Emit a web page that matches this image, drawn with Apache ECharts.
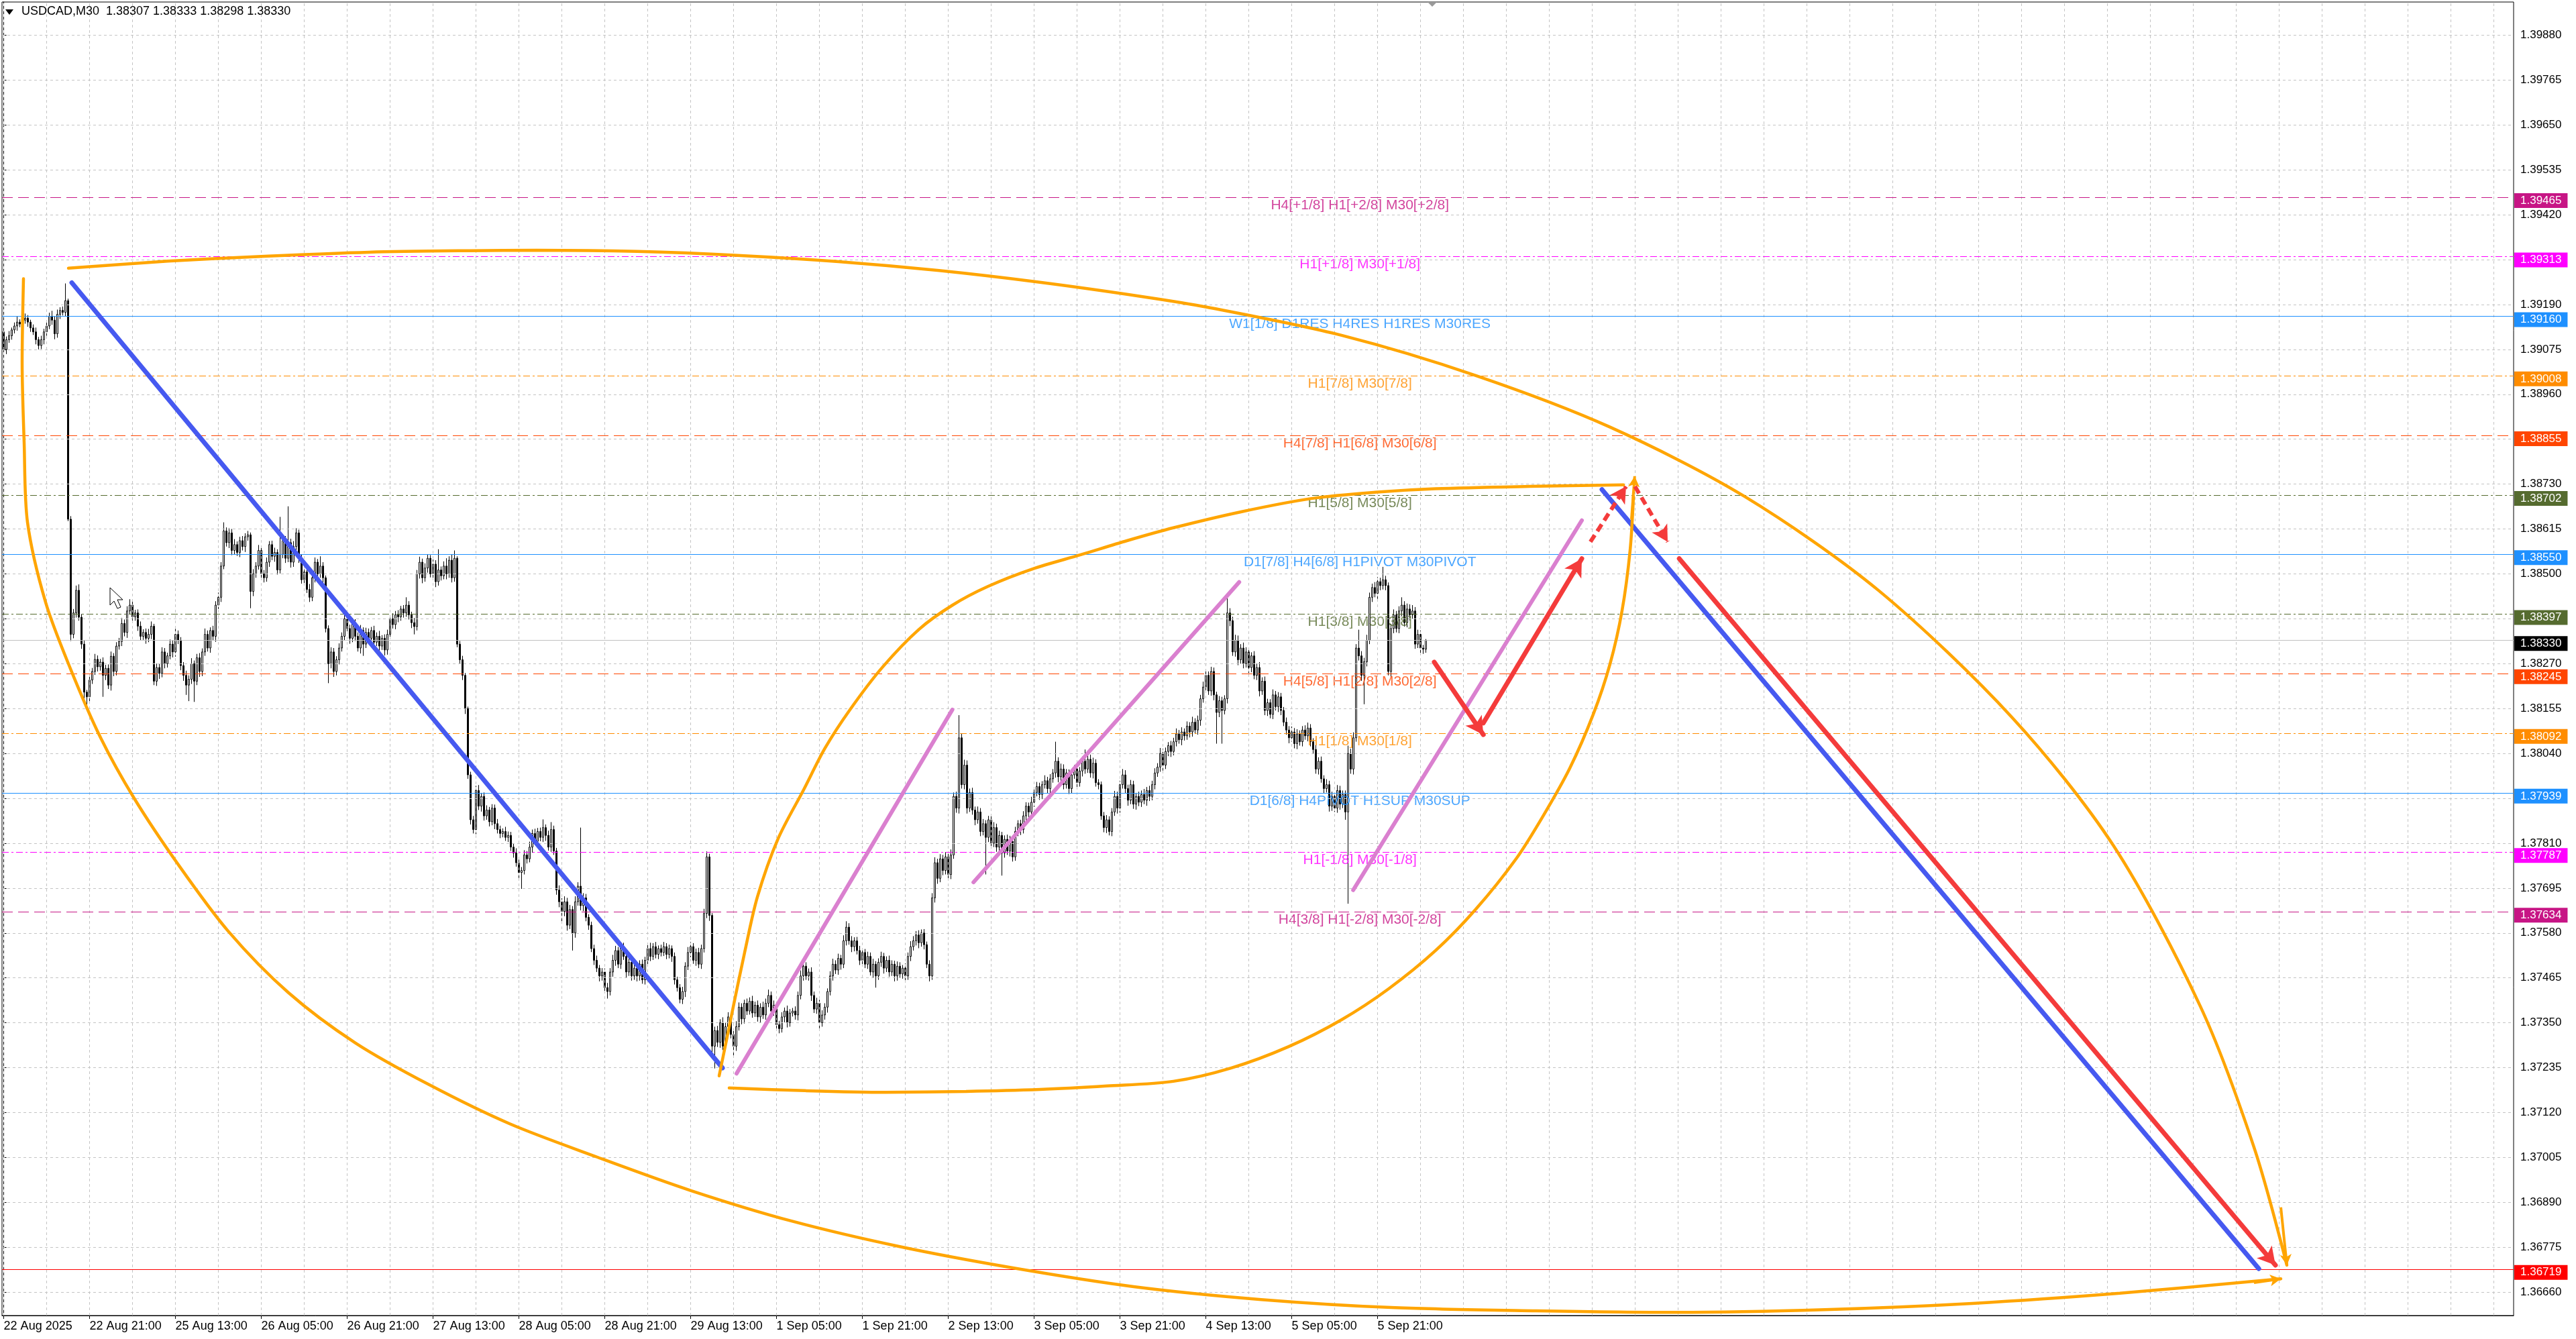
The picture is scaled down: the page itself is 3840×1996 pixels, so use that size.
<!DOCTYPE html>
<html><head><meta charset="utf-8">
<script src="https://cdn.jsdelivr.net/npm/echarts@6/dist/echarts.min.js"></script>
<style>html,body{margin:0;padding:0;background:#fff;}#c{width:3840px;height:1996px;}</style>
</head><body><div id="c"></div>
<script>
// ---- DATA (prices in points above 1.37000) ----
const BASE = 1.37, PT = 0.00001;
const firstOpen = 2120;
const closes = [
2075,2100,2110,2125,2135,2145,2140,2150,2155,2145,
2130,2120,2100,2085,2100,2120,2135,2160,2150,2115,
2165,2175,2170,2200,1640,1345,1400,1458,1389,1320,
1197,1185,1228,1250,1281,1262,1274,1240,1258,1215,
1289,1250,1315,1327,1373,1350,1405,1420,1390,1400,
1366,1340,1350,1335,1345,1366,1225,1260,1245,1300,
1270,1290,1320,1300,1345,1330,1265,1240,1215,1230,
1270,1225,1285,1250,1300,1345,1310,1355,1340,1420,
1440,1520,1610,1580,1605,1560,1575,1555,1585,1570,
1595,1600,1455,1500,1520,1560,1500,1490,1530,1575,
1545,1555,1510,1550,1585,1540,1580,1530,1570,1605,
1540,1485,1505,1460,1440,1490,1530,1500,1520,1490,
1360,1270,1300,1250,1280,1310,1340,1385,1360,1335,
1375,1340,1310,1355,1320,1350,1335,1355,1325,1340,
1315,1335,1305,1345,1385,1370,1395,1390,1410,1400,
1420,1395,1375,1365,1500,1530,1490,1515,1540,1500,
1525,1480,1510,1495,1520,1500,1535,1490,1540,1320,
1280,1240,1155,985,870,845,945,905,930,880,
895,865,900,860,845,835,840,825,830,800,
785,760,735,740,780,770,800,835,815,840,
825,850,830,800,845,790,690,660,635,660,
600,640,580,660,700,650,670,620,600,540,
510,490,470,480,440,430,480,510,535,500,
545,520,480,505,470,490,470,500,460,510,
540,520,545,525,540,530,545,525,540,520,
460,440,410,430,495,530,545,510,530,500,
540,630,775,625,290,330,300,350,290,340,
365,320,290,340,390,360,400,380,405,375,
395,365,390,370,400,420,380,395,345,335,
365,380,350,375,380,370,420,470,495,470,
480,420,385,400,350,370,390,430,470,500,
485,515,500,560,595,560,545,560,535,510,
530,500,520,480,500,470,505,520,490,510,
480,500,470,495,475,490,470,520,545,560,
575,555,580,550,500,470,670,760,720,770,
740,775,730,780,930,900,1080,960,1010,900,
940,895,870,890,840,860,825,870,810,850,
800,830,785,820,790,815,775,840,860,845,
880,905,890,915,940,955,935,960,970,950,
975,990,1020,980,1000,960,990,950,985,1000,
965,995,1020,1000,1025,990,1015,965,960,880,
850,870,840,890,930,900,960,985,950,920,
960,910,930,915,935,920,945,930,960,990,
1005,1040,1010,1045,1060,1045,1070,1090,1075,1095,
1085,1110,1095,1120,1100,1125,1180,1210,1240,1200,
1250,1190,1145,1175,1150,1180,1400,1380,1300,1330,
1280,1310,1270,1300,1260,1290,1240,1260,1200,1225,
1150,1170,1140,1190,1160,1185,1150,1120,1100,1080,
1095,1065,1090,1070,1100,1085,1105,1070,1050,1000,
1020,975,950,960,905,930,900,945,910,935,
890,1040,1000,1080,1310,1290,1240,1275,1330,1440,
1465,1450,1480,1470,1485,1470,1250,1360,1395,1360,
1405,1420,1375,1410,1395,1405,1320,1345,1310,1307,
1330];
const upWick = [
10,8,12,6,9,14,7,10,12,8, 6,9,11,7,10,8,12,9,14,10, 12,8,10,44,5,8,10,12,15,8,
10,6,12,9,14,10,8,12,9,10, 12,8,10,9,14,10,12,15,10,8, 9,12,8,10,14,12,6,10,9,12,
10,8,12,9,14,10,8,9,12,10, 14,8,10,12,9,15,10,8,12,10, 12,10,22,9,12,10,14,8,10,12,
9,10,6,12,10,14,8,10,12,9, 10,12,8,96,10,12,93,10,14,12, 8,10,12,9,14,10,12,8,25,10,
6,8,12,10,9,12,10,14,8,10, 12,9,10,14,8,12,10,9,12,10, 14,8,10,12,9,14,10,12,8,10,
20,10,8,12,10,14,9,12,10,8, 12,10,53,9,12,20,10,14,20,5, 8,10,6,5,8,10,12,14,9,10,
12,8,10,9,12,10,8,12,10,9, 10,12,8,9,12,10,14,10,12,9, 10,21,8,12,19,10,8,12,9,14,
10,12,9,14,10,150,12,10,8,9, 10,12,8,10,9,12,10,14,12,9, 12,10,8,12,10,9,14,10,12,9,
10,15,9,12,8,10,12,9,10,8, 10,8,9,12,10,14,12,9,10,12, 10,12,14,8,6,10,12,9,14,10,
12,9,10,14,12,10,9,12,10,14, 9,12,10,14,12,15,10,12,9,10, 12,9,14,10,8,12,10,14,12,10,
9,12,10,14,9,12,10,8,12,14, 10,12,9,14,15,10,12,9,10,12, 10,9,12,10,14,8,10,12,9,10,
12,10,9,12,10,8,12,10,14,12, 10,12,9,10,8,10,12,14,10,12, 10,12,9,14,10,12,58,10,14,12,
10,12,9,14,10,12,9,10,12,14, 10,12,9,10,12,14,10,12,9,10, 12,10,9,14,10,12,10,9,14,10,
12,10,50,10,14,12,10,9,12,10, 14,10,12,30,10,12,14,10,9,8, 10,12,9,10,14,12,10,15,12,10,
12,10,9,12,10,14,9,12,10,12, 10,14,12,10,9,12,10,14,10,12, 9,12,10,14,10,12,10,14,12,10,
12,10,8,12,10,9,50,12,10,14, 12,10,14,12,10,9,12,10,14,10, 12,10,9,14,10,12,10,9,12,10,
14,10,12,9,10,12,14,10,9,12, 10,12,9,14,10,12,10,14,12,10, 10,20,12,14,10,47,12,10,14,12,
10,14,12,10,33,10,8,12,14,10, 12,20,10,14,12,15,10,12,10,8,
3];
const dnWick = [
10,12,8,10,9,12,8,10,9,12, 10,8,12,10,9,12,10,8,12,14, 10,12,8,10,5,17,10,12,9,12,
17,34,12,10,9,12,10,55,12,10, 14,12,10,9,12,10,14,9,12,10, 12,10,9,14,10,12,10,12,14,10,
12,10,9,14,12,10,12,14,25,41, 12,53,10,14,12,10,9,12,10,14, 10,12,8,10,14,12,10,9,12,10,
14,10,43,12,10,9,14,12,10,12, 10,14,12,9,10,12,10,14,12,10, 12,10,14,9,12,10,12,14,10,12,
10,50,12,14,10,12,9,10,12,14, 10,12,9,14,30,10,12,9,14,10, 12,10,14,12,9,10,12,14,10,12,
10,12,14,20,10,12,14,10,12,9, 12,14,10,12,9,14,10,12,10,8, 10,12,14,10,12,10,12,10,14,12,
10,12,9,14,10,12,10,9,12,10, 12,10,14,42,10,12,9,14,10,12, 10,12,14,9,12,10,12,14,25,12,
14,10,45,12,10,12,14,10,12,9, 12,10,14,12,10,18,10,12,14,10, 12,9,14,10,12,10,14,12,10,12,
10,12,9,10,12,10,9,12,10,14, 12,10,10,12,14,10,12,9,14,10, 12,10,12,14,20,57,12,14,10,12,
14,10,30,12,10,14,12,10,9,12, 10,12,14,10,12,10,14,12,10,12, 10,14,12,10,9,12,14,10,12,10,
12,14,10,12,14,10,12,14,10,12, 10,12,14,10,12,10,14,12,10,12, 14,10,12,9,14,30,10,12,14,10,
12,10,14,12,10,12,14,10,12,10, 12,14,10,12,10,14,10,12,14,10, 12,10,14,12,10,12,14,10,12,14,
10,12,14,10,12,10,95,12,14,10, 12,10,58,12,10,14,12,10,12,14, 10,12,14,10,12,10,14,12,10,12,
14,10,12,14,10,12,10,14,12,10, 12,10,14,12,10,12,14,10,12,10, 12,14,10,12,10,14,12,10,12,14,
10,12,14,10,12,10,14,12,10,12, 10,12,14,10,12,14,10,12,10,14, 12,10,14,12,10,12,14,10,12,10,
12,14,80,12,85,10,12,14,10,12, 14,10,12,10,14,12,10,12,14,10, 12,14,10,12,10,14,12,10,12,14,
10,12,14,10,12,10,14,12,10,12, 14,10,12,10,14,12,10,12,14,10, 20,235,12,14,10,12,14,74,12,10,
12,10,14,12,10,12,10,14,12,10, 12,14,10,12,14,10,12,10,14,12,
9];

const xTickBars = [0,32,64,96,128,160,192,224,256,288,320,352,384,416,448,480,512];
const xTickLabels = ['22 Aug 2025','22 Aug 21:00','25 Aug 13:00','26 Aug 05:00','26 Aug 21:00','27 Aug 13:00','28 Aug 05:00','28 Aug 21:00','29 Aug 13:00','1 Sep 05:00','1 Sep 21:00','2 Sep 13:00','3 Sep 05:00','3 Sep 21:00','4 Sep 13:00','5 Sep 05:00','5 Sep 21:00'];
const yGridValues = [1.36660,1.36775,1.36890,1.37005,1.37120,1.37235,1.37350,1.37465,1.37580,1.37695,1.37810,1.37925,1.38040,1.38155,1.38270,1.38385,1.38500,1.38615,1.38730,1.38845,1.38960,1.39075,1.39190,1.39305,1.39420,1.39535,1.39650,1.39765,1.39880];
const yTickLabels = [1.36660,1.36775,1.36890,1.37005,1.37120,1.37235,1.37350,1.37465,1.37580,1.37695,1.37810,1.38040,1.38155,1.38270,1.38500,1.38615,1.38730,1.38960,1.39075,1.39190,1.39420,1.39535,1.39650,1.39765,1.39880];

const levelPrices = [1.39465,1.39313,1.39160,1.39008,1.38855,1.38702,1.38550,1.38397,1.38245,1.38092,1.37939,1.37787,1.37634];
const levelNames = ['H4[+1/8] H1[+2/8] M30[+2/8]','H1[+1/8] M30[+1/8]','W1[1/8] D1RES H4RES H1RES M30RES','H1[7/8] M30[7/8]','H4[7/8] H1[6/8] M30[6/8]','H1[5/8] M30[5/8]','D1[7/8] H4[6/8] H1PIVOT M30PIVOT','H1[3/8] M30[3/8]','H4[5/8] H1[2/8] M30[2/8]','H1[1/8] M30[1/8]','D1[6/8] H4PIVOT H1SUP M30SUP','H1[-1/8] M30[-1/8]','H4[3/8] H1[-2/8] M30[-2/8]'];
const levelKinds = ['h4','mag','blue','orange','ored','olive','blue','olive','ored','orange','blue','mag','h4'];
const currentPrice = 1.38330;
const targetPrice = 1.36719;
const titleText = 'USDCAD,M30  1.38307 1.38333 1.38298 1.38330';

// drawings: [bar index, price]
const blueTrends = [
  [[25.35,1.39246],[267.85,1.37234]],
  [[595.6,1.38716],[840.4,1.36720]]
];
const pinkChannels = [
  [[273.1,1.37220],[353.5,1.38152]],
  [[361.4,1.37710],[460.4,1.38479]],
  [[502.9,1.37690],[588.1,1.38637]]
];
const redArrows = [
  [[624.4,1.38539],[846.6,1.36729]],
  [[533.1,1.38274],[551.4,1.38088]],
  [[551.4,1.38118],[588.1,1.38539]]
];
const redDashedArrows = [
  [[591.3,1.38582],[604.6,1.38724]],
  [[607.9,1.38724],[620.1,1.38582]]
];
const outerLowerArc = [[7.35,1.39256],[6.85,1.39042],[7.6,1.38836],[8.85,1.38632],[15.6,1.38427],[24.85,1.38257],[36.1,1.38080],[48.6,1.37925],[64.85,1.37757],[83.6,1.37585],[106.1,1.37427],[131.1,1.37298],[158.6,1.37191],[188.6,1.37091],[221.1,1.37006],[256.1,1.36920],[293.6,1.36842],[333.6,1.36777],[376.1,1.36722],[421.1,1.36674],[468.6,1.36641],[518.6,1.36620],[571.1,1.36612],[623.6,1.36608],[678.6,1.36615],[733.6,1.36631],[788.6,1.36657],[848.6,1.36694]];
const outerUpperArc = [[24.1,1.39283],[61.1,1.39301],[98.6,1.39314],[136.1,1.39324],[173.6,1.39328],[198.6,1.39329],[236.1,1.39326],[273.6,1.39316],[311.1,1.39300],[348.6,1.39277],[386.1,1.39247],[423.6,1.39211],[448.6,1.39183],[498.6,1.39111],[548.6,1.39008],[598.6,1.38876],[648.6,1.38699],[698.6,1.38458],[748.6,1.38131],[786.1,1.37805],[818.6,1.37392],[838.6,1.37031],[850.85,1.36729]];
const innerUpperArc = [[266.6,1.37214],[269.35,1.37306],[272.1,1.37399],[276.1,1.37530],[280.85,1.37672],[288.6,1.37822],[298.1,1.37947],[306.1,1.38054],[315.35,1.38152],[327.35,1.38260],[341.1,1.38358],[353.6,1.38420],[366.85,1.38468],[383.6,1.38513],[401.35,1.38549],[418.6,1.38585],[435.85,1.38618],[461.1,1.38659],[487.35,1.38693],[511.1,1.38709],[533.6,1.38718],[568.6,1.38724],[603.6,1.38728]];
const innerLowerArc = [[270.35,1.37183],[298.6,1.37176],[328.6,1.37172],[358.6,1.37174],[386.1,1.37179],[411.1,1.37188],[435.85,1.37200],[457.35,1.37234],[478.85,1.37289],[498.6,1.37358],[516.1,1.37437],[533.6,1.37535],[548.6,1.37641],[563.6,1.37770],[573.6,1.37879],[583.6,1.38002],[592.35,1.38140],[598.6,1.38269],[603.1,1.38406],[606.1,1.38561],[607.35,1.38699]];
const orangeArrowHeads = [
  [[606.6,1.38640],[607.8,1.38750]],
  [[838.6,1.36684],[848.6,1.36694]],
  [[848.6,1.36877],[850.85,1.36729]]
];

// ---- BUILD ----
const FONT = 'Liberation Sans';
const candles = closes.map((c, i) => {
  const o = i === 0 ? firstOpen : closes[i - 1];
  const hi = Math.max(o, c) + upWick[i];
  const lo = Math.min(o, c) - dnWick[i];
  return [i, BASE + o * PT, BASE + c * PT, BASE + lo * PT, BASE + hi * PT];
});
const kindStyle = {
  h4: {color: '#C71585', type: [16, 8]},
  mag: {color: '#FF00FF', type: [10, 4, 3, 4]},
  blue: {color: '#1E90FF', type: 'solid'},
  orange: {color: '#FF8C00', type: [10, 4, 3, 4]},
  ored: {color: '#FF4500', type: [16, 8]},
  olive: {color: '#556B2F', type: [10, 4, 3, 4]}
};
const xGridBars = [];
for (let b = 0; b <= 928; b += 16) xGridBars.push(b);

function badge(price, bg, lineColor, lineType) {
  return {
    yAxis: price,
    lineStyle: {color: lineColor, type: lineType, width: 1.2},
    label: {show: true, position: 'end', distance: 1, formatter: price.toFixed(5),
      backgroundColor: bg, color: '#fff', padding: [3, 9, 2, 9], fontSize: 17, fontFamily: FONT, offset: [0, 5]}
  };
}
const levelMarks = levelPrices.map((p, k) => {
  const s = kindStyle[levelKinds[k]];
  return badge(p, s.color, s.color, s.type);
});
levelMarks.push(badge(currentPrice, '#000000', '#C0C0C0', 'solid'));
levelMarks.push(badge(targetPrice, '#FF0000', '#FF0000', 'solid'));

const dummy = [[0, 1.38]];
function holder(z, markLine) {
  markLine.precision = 6;
  return {type: 'line', data: dummy, symbol: 'none', lineStyle: {opacity: 0}, silent: true, z: z, animation: false, markLine: markLine};
}
function segs(list, extra) {
  return list.map(s => [Object.assign({coord: s[0]}, extra || {}), {coord: s[1]}]);
}
function arc(pts) {
  return {type: 'line', data: pts, smooth: 0.3, showSymbol: false, symbol: 'none', silent: true, clip: false, z: 5,
    lineStyle: {color: '#FFA500', width: 4.5, cap: 'round'}, animation: false};
}

const chart = echarts.init(document.getElementById('c'), null, {renderer: 'canvas'});
chart.setOption({
  animation: false,
  backgroundColor: '#ffffff',
  textStyle: {fontFamily: FONT},
  grid: {left: 3, right: 93, top: 3, bottom: 35, show: true, borderColor: '#000', borderWidth: 1, backgroundColor: '#fff'},
  xAxis: {
    type: 'value', min: -0.65, max: 935.35,
    axisLine: {show: true, onZero: false, lineStyle: {color: '#000', width: 1}},
    axisTick: {show: true, customValues: xTickBars, length: 5, lineStyle: {color: '#000'}},
    axisLabel: {show: true, customValues: xTickBars, align: 'left', margin: 7, fontSize: 18, color: '#000', fontFamily: FONT,
      formatter: v => xTickLabels[xTickBars.indexOf(Math.round(v))] || ''},
    splitLine: {show: false}
  },
  yAxis: {
    type: 'value', position: 'right', min: 1.366, max: 1.39965, scale: true,
    axisLine: {show: true, lineStyle: {color: '#000', width: 1}},
    axisTick: {show: true, customValues: yGridValues, length: 4, lineStyle: {color: '#000'}},
    axisLabel: {show: true, customValues: yTickLabels, margin: 10, fontSize: 17, color: '#000', fontFamily: FONT,
      formatter: v => v.toFixed(5)},
    splitLine: {show: false}
  },
  series: [
    holder(0, {silent: true, symbol: 'none', animation: false, label: {show: false}, emphasis: {disabled: true},
      lineStyle: {color: '#c4c4c4', type: [4, 4], width: 1},
      data: yGridValues.map(v => ({yAxis: v})).concat(xGridBars.map(b => ({xAxis: b})))}),
    holder(1, {silent: true, symbol: 'none', animation: false, emphasis: {disabled: true}, data: levelMarks}),
    {
      type: 'candlestick', data: candles, encode: {x: 0, y: [1, 2, 3, 4]}, barWidth: 3, z: 2, silent: true,
      itemStyle: {color: '#ffffff', color0: '#000000', borderColor: '#000000', borderColor0: '#000000', borderWidth: 1}
    },
    {
      type: 'scatter', z: 3, silent: true, symbolSize: 1, itemStyle: {color: 'rgba(0,0,0,0)'},
      data: levelPrices.map((p, k) => ({name: levelNames[k], value: [505.4, p],
        label: {color: kindStyle[levelKinds[k]].color}})),
      label: {show: true, position: 'bottom', distance: 1, formatter: '{b}', fontSize: 21, fontFamily: FONT}
    },
    arc(outerLowerArc), arc(outerUpperArc), arc(innerUpperArc), arc(innerLowerArc),
    holder(5, {silent: true, animation: false, symbol: ['none', 'arrow'], symbolSize: [13, 16], label: {show: false}, emphasis: {disabled: true},
      lineStyle: {color: '#FFA500', width: 4, type: 'solid'}, data: segs(orangeArrowHeads)}),
    holder(6, {silent: true, animation: false, symbol: ['none', 'none'], label: {show: false}, emphasis: {disabled: true},
      lineStyle: {color: '#4659F0', width: 7, type: 'solid', cap: 'round'}, data: segs(blueTrends)}),
    holder(6, {silent: true, animation: false, symbol: ['none', 'none'], label: {show: false}, emphasis: {disabled: true},
      lineStyle: {color: '#DA80CF', width: 6, type: 'solid', cap: 'round'}, data: segs(pinkChannels)}),
    holder(7, {silent: true, animation: false, symbol: ['none', 'arrow'], symbolSize: [22, 26], label: {show: false}, emphasis: {disabled: true},
      lineStyle: {color: '#F43B3B', width: 7, type: 'solid', cap: 'round'}, data: segs(redArrows)}),
    holder(7, {silent: true, animation: false, symbol: ['none', 'arrow'], symbolSize: [20, 24], label: {show: false}, emphasis: {disabled: true},
      lineStyle: {color: '#F43B3B', width: 6, type: [12, 7]}, data: segs(redDashedArrows)})
  ],
  graphic: [
    {type: 'polygon', shape: {points: [[8, 14], [20, 14], [14, 22]]}, style: {fill: '#000'}, z: 10},
    {type: 'text', left: 32, top: 8, style: {text: titleText, fontSize: 18, fontFamily: FONT, fill: '#000'}, z: 10},
    {type: 'polygon', shape: {points: [[2128, 3], [2142, 3], [2135, 10]]}, style: {fill: '#9a9a9a'}, z: 10},
    {type: 'polygon', z: 10, shape: {points: [[164, 876], [164, 902], [170, 896], [175, 907], [180, 905], [175, 894], [183, 894]]},
      style: {fill: '#fff', stroke: '#000', lineWidth: 1}}
  ]
});
</script>
</body></html>
